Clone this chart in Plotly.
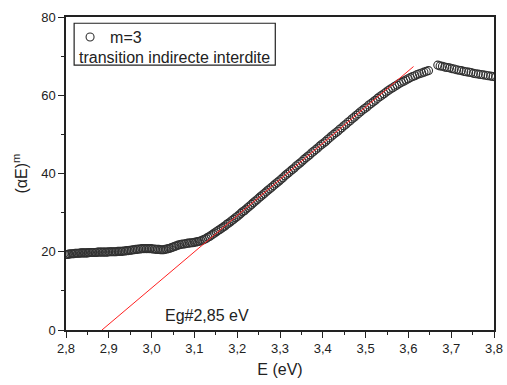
import plotly.graph_objects as go

# wavelength sampling (nm, 0.5 nm steps) of the measured spectrum; photon energy E = 1240 / lambda
wavelength_nm = [443.0 - 0.5 * i for i in range(207)] + [338.0 - 0.5 * i for i in range(25)]

alphaE_m = [
    19.3, 19.3, 19.4, 19.4, 19.5, 19.5, 19.5, 19.6, 19.6, 19.6, 19.6, 19.7, 19.7, 19.7, 19.7, 19.7, 19.7, 19.8, 19.8, 19.8,
    19.8, 19.8, 19.8, 19.9, 19.9, 19.9, 19.9, 19.9, 19.9, 19.9, 19.9, 20.0, 20.0, 20.0, 20.0, 20.0, 20.0, 20.1, 20.1, 20.1,
    20.1, 20.2, 20.2, 20.3, 20.3, 20.4, 20.4, 20.5, 20.5, 20.6, 20.6, 20.7, 20.7, 20.8, 20.8, 20.8, 20.8, 20.8, 20.8, 20.8,
    20.7, 20.7, 20.6, 20.6, 20.6, 20.5, 20.5, 20.5, 20.6, 20.7, 20.8, 20.9, 21.1, 21.2, 21.4, 21.5, 21.7, 21.8, 21.9, 22.0,
    22.0, 22.1, 22.2, 22.2, 22.3, 22.3, 22.4, 22.5, 22.6, 22.7, 22.8, 23.0, 23.2, 23.4, 23.7, 23.9, 24.2, 24.5, 24.8, 25.1,
    25.4, 25.7, 26.0, 26.3, 26.6, 27.0, 27.3, 27.6, 28.0, 28.3, 28.7, 29.0, 29.4, 29.8, 30.2, 30.5, 30.9, 31.3, 31.7, 32.1,
    32.5, 32.9, 33.3, 33.7, 34.1, 34.5, 34.9, 35.3, 35.7, 36.1, 36.5, 36.9, 37.3, 37.7, 38.1, 38.5, 38.9, 39.4, 39.8, 40.2,
    40.6, 41.0, 41.4, 41.9, 42.3, 42.7, 43.1, 43.6, 44.0, 44.4, 44.8, 45.3, 45.7, 46.1, 46.5, 47.0, 47.4, 47.8, 48.2, 48.7,
    49.1, 49.6, 50.0, 50.4, 50.8, 51.3, 51.7, 52.2, 52.6, 53.1, 53.5, 54.0, 54.4, 54.9, 55.3, 55.8, 56.2, 56.6, 57.0, 57.5,
    57.9, 58.3, 58.7, 59.2, 59.6, 60.0, 60.4, 60.8, 61.2, 61.6, 61.9, 62.3, 62.6, 63.0, 63.3, 63.6, 63.9, 64.2, 64.5, 64.8,
    65.0, 65.3, 65.5, 65.7, 65.9, 66.1, 66.3,
    67.7, 67.5, 67.4, 67.2, 67.1, 67.0, 66.8, 66.7, 66.5, 66.4, 66.3, 66.1, 66.0, 65.9, 65.8, 65.6, 65.5, 65.4, 65.3, 65.2,
    65.1, 65.0, 64.9, 64.8, 64.7,
]

n = min(len(wavelength_nm), len(alphaE_m))
energy_eV = [1240.0 / w for w in wavelength_nm[:n]]
alphaE_m = alphaE_m[:n]

# linear fit (Tauc extrapolation)
fit_Eg = 2.884
fit_slope = 92.5
fit_E = [2.884, 3.612]
fit_y = [fit_slope * (e - fit_Eg) for e in fit_E]

x_ticks = [2.8, 2.9, 3.0, 3.1, 3.2, 3.3, 3.4, 3.5, 3.6, 3.7, 3.8]
y_ticks = [0, 20, 40, 60, 80]

FONT = "Liberation Sans, Arial, sans-serif"
AX = "#222222"

fig = go.Figure()
fig.add_trace(go.Scatter(
    x=energy_eV, y=alphaE_m, mode="markers", name="m=3",
    marker=dict(symbol="circle-open", size=8, color="#303030", line=dict(width=1.1, color="#303030")),
    showlegend=True,
))
fig.add_trace(go.Scatter(
    x=fit_E, y=fit_y, mode="lines", line=dict(color="#ff2020", width=1),
    showlegend=False,
))

axis_common = dict(
    showline=True, linecolor=AX, linewidth=1.5, mirror=True,
    ticks="outside", tickcolor=AX, tickwidth=1.2, ticklen=6,
    showgrid=False, zeroline=False, automargin=False,
    tickfont=dict(family=FONT, size=13, color="#222"),
)
fig.update_xaxes(
    range=[2.8, 3.8], tickvals=x_ticks, ticktext=[f"{v:.1f}".replace(".", ",") for v in x_ticks],
    minor=dict(ticks="outside", dtick=0.05, ticklen=3, tickcolor=AX, tickwidth=1.2),
    title=dict(text="E (eV)", font=dict(family=FONT, size=16, color="#222"), standoff=8),
    **axis_common,
)
fig.update_yaxes(
    range=[0, 80], tickvals=y_ticks,
    minor=dict(ticks="outside", dtick=10, ticklen=3, tickcolor=AX, tickwidth=1.2),
    title=dict(text="(αE)<sup>m</sup>", font=dict(family=FONT, size=16, color="#222"), standoff=10),
    **axis_common,
)

fig.add_shape(type="rect", xref="x", yref="y", x0=2.819, x1=3.289, y0=67.7, y1=78.4,
              line=dict(color="#222", width=1.2), fillcolor="rgba(0,0,0,0)")
fig.add_annotation(x=2.825, y=69.7, xref="x", yref="y", text="transition indirecte interdite",
                   showarrow=False, xanchor="left", yanchor="middle",
                   font=dict(family=FONT, size=16, color="#222"))
fig.add_annotation(x=3.13, y=3.7, xref="x", yref="y", text="Eg#2,85 eV",
                   showarrow=False, xanchor="center", yanchor="middle",
                   font=dict(family=FONT, size=16, color="#222"))

fig.update_layout(
    width=507, height=385,
    margin=dict(l=66, r=13, t=17, b=55),
    paper_bgcolor="white", plot_bgcolor="white",
    font=dict(family=FONT, color="#222"),
    legend=dict(x=0.0095, y=0.99, xanchor="left", yanchor="top", bgcolor="rgba(0,0,0,0)",
                font=dict(family=FONT, size=16, color="#222"), borderwidth=0,
                itemwidth=30),
)

fig.write_html("out.html", config={"displayModeBar": False})

# remove the browser's default 8px body margin so the figure sits at the window origin
with open("out.html", "r", encoding="utf-8") as f:
    html = f.read()
html = html.replace("<body>", '<body style="margin:0;padding:0;">', 1)
with open("out.html", "w", encoding="utf-8") as f:
    f.write(html)
